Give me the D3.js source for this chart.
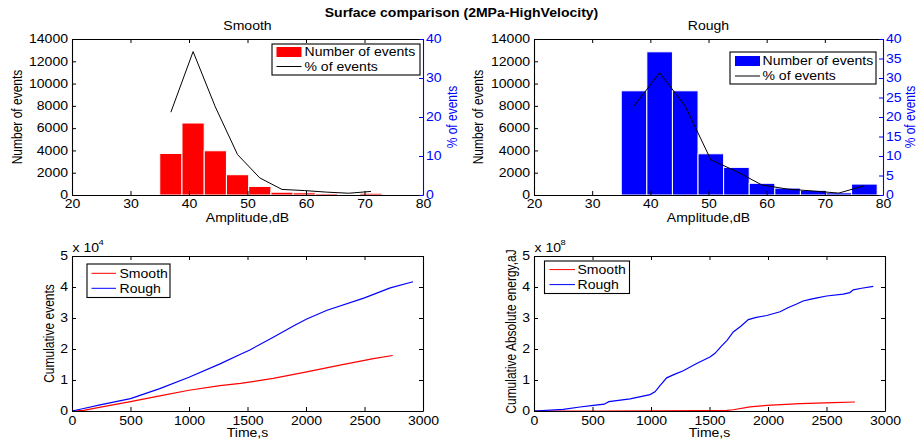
<!DOCTYPE html>
<html>
<head>
<meta charset="utf-8">
<script src="https://cdn.jsdelivr.net/npm/d3@7"></script>
<style>
  html, body { margin: 0; padding: 0; background: #fff; }
  svg { display: block; font-family: "Liberation Sans", Arial, sans-serif; }
</style>
</head>
<body>
<svg id="chart" width="917" height="439"></svg>
<script>
// ---- Amplitude histograms (dB bins, event counts) ----
const smoothBinEdges = [35, 38.8, 42.6, 46.4, 50.2, 54, 57.8, 61.6, 65.4, 69.2, 73];
const smoothCounts   = [3730, 6460, 3970, 1820, 770, 250, 200, 130, 80, 160];
const roughBinEdges  = [35, 39.4, 43.8, 48.2, 52.6, 57, 61.4, 65.8, 70.2, 74.6, 79];
const roughCounts    = [9350, 12850, 9350, 3700, 2480, 1050, 620, 420, 200, 980];

// ---- Axis ticks ----
const ampTicks      = [20, 30, 40, 50, 60, 70, 80];
const countTicks    = [0, 2000, 4000, 6000, 8000, 10000, 12000, 14000];
const smoothPctTicks = [0, 10, 20, 30, 40];
const roughPctTicks  = [0, 5, 10, 15, 20, 25, 30, 35, 40];
const timeTicks     = [0, 500, 1000, 1500, 2000, 2500, 3000];
const cumTicks      = [0, 1, 2, 3, 4, 5];

// ---- Cumulative events (x 10^4) vs time (s) ----
const smoothEvTime = [0, 100, 268, 500, 750, 1000, 1265, 1440, 1720, 2006, 2290, 2576, 2741];
const smoothEv     = [0, 0.02, 0.14, 0.30, 0.49, 0.67, 0.82, 0.89, 1.05, 1.26, 1.48, 1.69, 1.79];
const roughEvTime  = [0, 100, 240, 500, 750, 1000, 1265, 1440, 1520, 1720, 1900, 2006, 2180, 2500, 2720, 2915];
const roughEv      = [0, 0.08, 0.20, 0.40, 0.72, 1.09, 1.52, 1.83, 1.97, 2.38, 2.76, 2.97, 3.25, 3.65, 3.97, 4.17];

// ---- Cumulative absolute energy (x 10^8 aJ) vs time (s) ----
const smoothEnTime = [0, 500, 1000, 1500, 1650, 1703, 1846, 1989, 2274, 2558, 2743];
const smoothEn     = [0, 0, 0.005, 0.01, 0.02, 0.04, 0.13, 0.18, 0.24, 0.27, 0.29];
const roughEnTime  = [0, 250, 393, 507, 600, 640, 821, 992, 1034, 1077, 1134, 1200, 1276, 1390, 1504, 1547, 1604, 1650, 1703, 1770, 1832, 1900, 1989, 2103, 2170, 2245, 2300, 2359, 2420, 2501, 2643, 2700, 2729, 2800, 2900];
const roughEn      = [0, 0.05, 0.13, 0.18, 0.22, 0.30, 0.39, 0.53, 0.62, 0.82, 1.07, 1.18, 1.30, 1.53, 1.74, 1.86, 2.10, 2.28, 2.55, 2.74, 2.95, 3.02, 3.08, 3.20, 3.33, 3.45, 3.55, 3.60, 3.65, 3.71, 3.77, 3.82, 3.91, 3.96, 4.02];

const RED = "#ff0000", BLUE = "#0000ff";
const SX = 1.17;   // horizontal text stretch
const svg = d3.select("#chart");

function label(g, x, y, s, o = {}) {
  const t = g.append("text")
    .attr("transform", o.rotate
      ? `translate(${x},${y}) rotate(-90) scale(1,${SX})`
      : `translate(${x},${y}) scale(${SX},1)`)
    .attr("text-anchor", o.anchor || "middle")
    .attr("font-size", o.size || 12)
    .attr("font-weight", o.weight || "normal")
    .attr("fill", o.fill || "#000");
  if (o.dy) t.attr("dy", o.dy);
  t.text(s);
  return t;
}

function styleAxis(g, color, side, pad) {
  g.selectAll("path.domain").attr("stroke", color).attr("stroke-width", 1.1);
  g.selectAll(".tick line").attr("stroke", color).attr("stroke-width", 1);
  const txt = g.selectAll(".tick text")
    .attr("font-size", 12).attr("font-family", "Liberation Sans, Arial, sans-serif")
    .attr("fill", color)
    .attr("transform", `scale(${SX},1)`);
  if (side === "left") txt.attr("x", -pad / SX);
  if (side === "right") txt.attr("x", pad / SX);
}

function legend(g, box, rows) {
  g.append("rect").attr("x", box.x).attr("y", box.y).attr("width", box.w).attr("height", box.h)
    .attr("fill", "#fff").attr("stroke", "#000").attr("stroke-width", 1.1);
  rows.forEach(r => {
    if (r.type === "rect") {
      g.append("rect").attr("x", r.x0).attr("y", r.y - 5).attr("width", r.x1 - r.x0).attr("height", 10)
        .attr("fill", r.color);
    } else {
      g.append("line").attr("x1", r.x0).attr("x2", r.x1).attr("y1", r.y).attr("y2", r.y)
        .attr("stroke", r.color).attr("stroke-width", 1);
    }
    label(g, r.tx, r.ty, r.text, { anchor: "start" });
  });
}

// ---- Histogram panel with % of events on a second axis ----
function histPanel(p) {
  const g = svg.append("g");
  const x = d3.scaleLinear().domain([20, 80]).range([p.left, p.right]);
  const y = d3.scaleLinear().domain([0, 14000]).range([p.bottom, p.top]);
  const yr = d3.scaleLinear().domain([0, 40]).range([p.bottom, p.top]);

  const bins = p.counts.map((c, i) => ({ x0: p.edges[i], x1: p.edges[i + 1], c }));
  const total = d3.sum(p.counts);

  g.selectAll("rect.bar").data(bins).join("rect").attr("class", "bar")
    .attr("x", d => x(d.x0)).attr("width", d => x(d.x1) - x(d.x0))
    .attr("y", d => y(d.c)).attr("height", d => y(0) - y(d.c))
    .attr("fill", p.color).attr("stroke", "#fff").attr("stroke-width", 1);

  const pct = bins.map(d => ({ a: (d.x0 + d.x1) / 2, v: d.c / total * 100 }));
  g.append("path").datum(pct)
    .attr("d", d3.line().x(d => x(d.a)).y(d => yr(d.v)))
    .attr("fill", "none").attr("stroke", "#000").attr("stroke-width", 1);

  const ax = g.append("g").attr("transform", `translate(0,${p.bottom})`)
    .call(d3.axisBottom(x).tickValues(ampTicks).tickSizeInner(-4).tickSizeOuter(0).tickPadding(4));
  styleAxis(ax, "#000", "bottom");
  const at = g.append("g").attr("transform", `translate(0,${p.top})`)
    .call(d3.axisTop(x).tickValues(ampTicks).tickSizeInner(-4).tickSizeOuter(0).tickFormat(""));
  styleAxis(at, "#000", "top");
  const al = g.append("g").attr("transform", `translate(${p.left},0)`)
    .call(d3.axisLeft(y).tickValues(countTicks).tickSizeInner(-4).tickSizeOuter(0).tickFormat(d3.format("d")));
  styleAxis(al, "#000", "left", 4);
  const ar = g.append("g").attr("transform", `translate(${p.right},0)`)
    .call(d3.axisRight(yr).tickValues(p.pctTicks).tickSizeInner(-4).tickSizeOuter(0));
  styleAxis(ar, BLUE, "right", 3);

  label(g, (p.left + p.right) / 2, 30, p.title);
  label(g, (p.left + p.right) / 2, 221.5, "Amplitude,dB");
  label(g, p.yLabelX, (p.top + p.bottom) / 2, "Number of events", { rotate: true, dy: "0.35em" });
  label(g, p.pctLabelX, (p.top + p.bottom) / 2, "% of events", { rotate: true, dy: "0.35em", fill: BLUE });

  legend(g, p.legendBox, [
    { type: "rect", color: p.color, x0: p.lx0, x1: p.lx1, y: p.row1 - 4, tx: p.tx, ty: p.row1, text: "Number of events" },
    { type: "line", color: "#000", x0: p.lx0, x1: p.lx1, y: p.row2 - 4, tx: p.tx, ty: p.row2, text: "% of events" }
  ]);
}

// ---- Cumulative curves panel ----
function cumPanel(p) {
  const g = svg.append("g");
  const x = d3.scaleLinear().domain([0, 3000]).range([p.left, p.right]);
  const y = d3.scaleLinear().domain([0, 5]).range([p.bottom, p.top]);
  const line = d3.line().x(d => x(d[0])).y(d => y(d[1]));

  p.series.forEach(s => {
    g.append("path").datum(d3.zip(s.t, s.v)).attr("d", line)
      .attr("fill", "none").attr("stroke", s.color).attr("stroke-width", 1.2);
  });

  const ax = g.append("g").attr("transform", `translate(0,${p.bottom})`)
    .call(d3.axisBottom(x).tickValues(timeTicks).tickSizeInner(-4).tickSizeOuter(0)
      .tickPadding(5).tickFormat(d3.format("d")));
  styleAxis(ax, "#000", "bottom");
  const at = g.append("g").attr("transform", `translate(0,${p.top})`)
    .call(d3.axisTop(x).tickValues(timeTicks).tickSizeInner(-4).tickSizeOuter(0).tickFormat(""));
  styleAxis(at, "#000", "top");
  const al = g.append("g").attr("transform", `translate(${p.left},0)`)
    .call(d3.axisLeft(y).tickValues(cumTicks).tickSizeInner(-4).tickSizeOuter(0).tickFormat(d3.format("d")));
  styleAxis(al, "#000", "left", 4);
  const ar = g.append("g").attr("transform", `translate(${p.right},0)`)
    .call(d3.axisRight(y).tickValues(cumTicks).tickSizeInner(-4).tickSizeOuter(0).tickFormat(""));
  styleAxis(ar, "#000", "right", 3);

  label(g, p.left + 0.5, 252, "x 10", { anchor: "start" });
  label(g, p.left + 26.5, 245, p.exp, { anchor: "start", size: 8 });

  label(g, (p.left + p.right) / 2, 436.5, "Time,s");
  label(g, p.yLabelX, (p.top + p.bottom) / 2 - p.yLabelShift, p.yLabel, { rotate: true, dy: "0.35em" });

  legend(g, p.legendBox, p.series.map((s, i) => ({
    type: "line", color: s.color, x0: p.lx0, x1: p.lx1, y: p.rows[i] - 4.4,
    tx: p.tx, ty: p.rows[i], text: s.name
  })));
}

histPanel({
  left: 72, right: 423, top: 39, bottom: 195,
  edges: smoothBinEdges, counts: smoothCounts, color: RED, title: "Smooth",
  pctTicks: smoothPctTicks, yLabelX: 17, pctLabelX: 452,
  legendBox: { x: 272, y: 44, w: 148, h: 31 }, lx0: 276.5, lx1: 301.5, tx: 304.5, row1: 56, row2: 70.5
});
histPanel({
  left: 534, right: 883, top: 39, bottom: 195,
  edges: roughBinEdges, counts: roughCounts, color: BLUE, title: "Rough",
  pctTicks: roughPctTicks, yLabelX: 478.5, pctLabelX: 910,
  legendBox: { x: 730, y: 52, w: 146, h: 32 }, lx0: 735, lx1: 760, tx: 762.5, row1: 65, row2: 80
});

cumPanel({
  left: 72, right: 423, top: 256, bottom: 411, exp: "4",
  yLabel: "Cumulative events", yLabelX: 49.5, yLabelShift: 0,
  series: [
    { name: "Smooth", color: RED, t: smoothEvTime, v: smoothEv },
    { name: "Rough", color: BLUE, t: roughEvTime, v: roughEv }
  ],
  legendBox: { x: 87, y: 264, w: 83, h: 33.5 }, lx0: 91.5, lx1: 116, tx: 119.5, rows: [277.7, 292.7]
});
cumPanel({
  left: 534, right: 885, top: 256, bottom: 411, exp: "8",
  yLabel: "Cumulative Absolute energy,aJ", yLabelX: 511.5, yLabelShift: 2,
  series: [
    { name: "Smooth", color: RED, t: smoothEnTime, v: smoothEn },
    { name: "Rough", color: BLUE, t: roughEnTime, v: roughEn }
  ],
  legendBox: { x: 544.5, y: 261, w: 85, h: 32.5 }, lx0: 549.5, lx1: 575, tx: 577.5, rows: [274, 289]
});

// Figure title
label(svg, 461.5, 17, "Surface comparison (2MPa-HighVelocity)", { weight: "bold" });
</script>
</body>
</html>
